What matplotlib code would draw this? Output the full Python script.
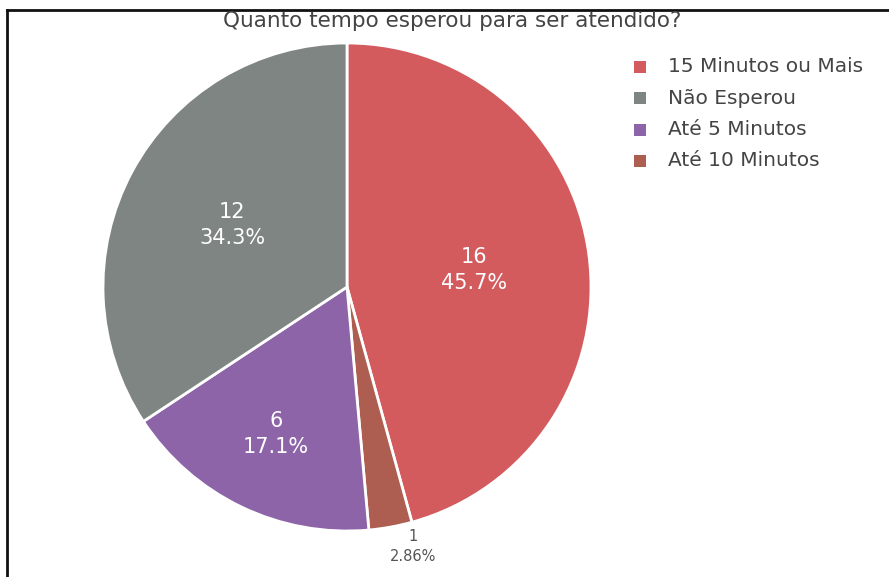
import matplotlib
matplotlib.use("Agg")
import matplotlib.pyplot as plt
from matplotlib.lines import Line2D
from matplotlib.patches import Rectangle
import numpy as np

title = "Quanto tempo esperou para ser atendido?"
# slices in drawing order (clockwise from top)
slice_labels = ["15 Minutos ou Mais", "Até 10 Minutos", "Até 5 Minutos", "Não Esperou"]
slice_values = [16, 1, 6, 12]
slice_colors = ["#D35B5E", "#AD5E50", "#8D64A8", "#7F8583"]
legend_order = ["15 Minutos ou Mais", "Não Esperou", "Até 5 Minutos", "Até 10 Minutos"]
pct_text = ["45.7%", "2.86%", "17.1%", "34.3%"]
label_radius = [0.525, None, 0.67, 0.535]

W, H = 889, 577
fig = plt.figure(figsize=(W / 100, H / 100), dpi=100)
fig.patch.set_facecolor("white")

cx, cy, R = 347, 290, 244
ax = fig.add_axes([(cx - R) / W, (cy - R) / H, 2 * R / W, 2 * R / H])
wedges, _ = ax.pie(slice_values, colors=slice_colors, startangle=90, counterclock=False,
                   radius=1.0, wedgeprops=dict(edgecolor="white", linewidth=2))
ax.set_xlim(-1, 1)
ax.set_ylim(-1, 1)
ax.set_aspect("equal")
ax.axis("off")

for w, v, p, r in zip(wedges, slice_values, pct_text, label_radius):
    mid = np.deg2rad((w.theta1 + w.theta2) / 2)
    if r is not None:
        ax.text(r * np.cos(mid), r * np.sin(mid), f"{v}\n{p}", ha="center", va="center",
                color="white", fontsize=15, linespacing=1.35)
    else:
        t = ax.text(1.01 * np.cos(mid) + 0.09, 1.01 * np.sin(mid), f"{v}\n{p}", ha="center", va="top",
                    color="#555555", fontsize=10.5, linespacing=1.35)
        t.set_clip_on(False)

fig.text(452 / W, 1 - 21 / H, title, ha="center", va="center", fontsize=15.5, color="#444444")

# legend
color_map = dict(zip(slice_labels, slice_colors))
for i, name in enumerate(legend_order):
    y = 67 + i * 31.3
    fig.patches.append(Rectangle(((640 - 6) / W, 1 - (y + 6) / H), 12 / W, 12 / H,
                                 transform=fig.transFigure, facecolor=color_map[name],
                                 edgecolor="none"))
    fig.text(668 / W, 1 - y / H, name, ha="left", va="center", fontsize=14.5, color="#444444")

# frame lines
fig.add_artist(Line2D([7 / W, 1], [1 - 10 / H, 1 - 10 / H], color="#111111", linewidth=2,
                      transform=fig.transFigure))
fig.add_artist(Line2D([7 / W, 7 / W], [0, 1 - 10 / H], color="#111111", linewidth=2,
                      transform=fig.transFigure))

fig.savefig("out.png", dpi=100, facecolor="white")
